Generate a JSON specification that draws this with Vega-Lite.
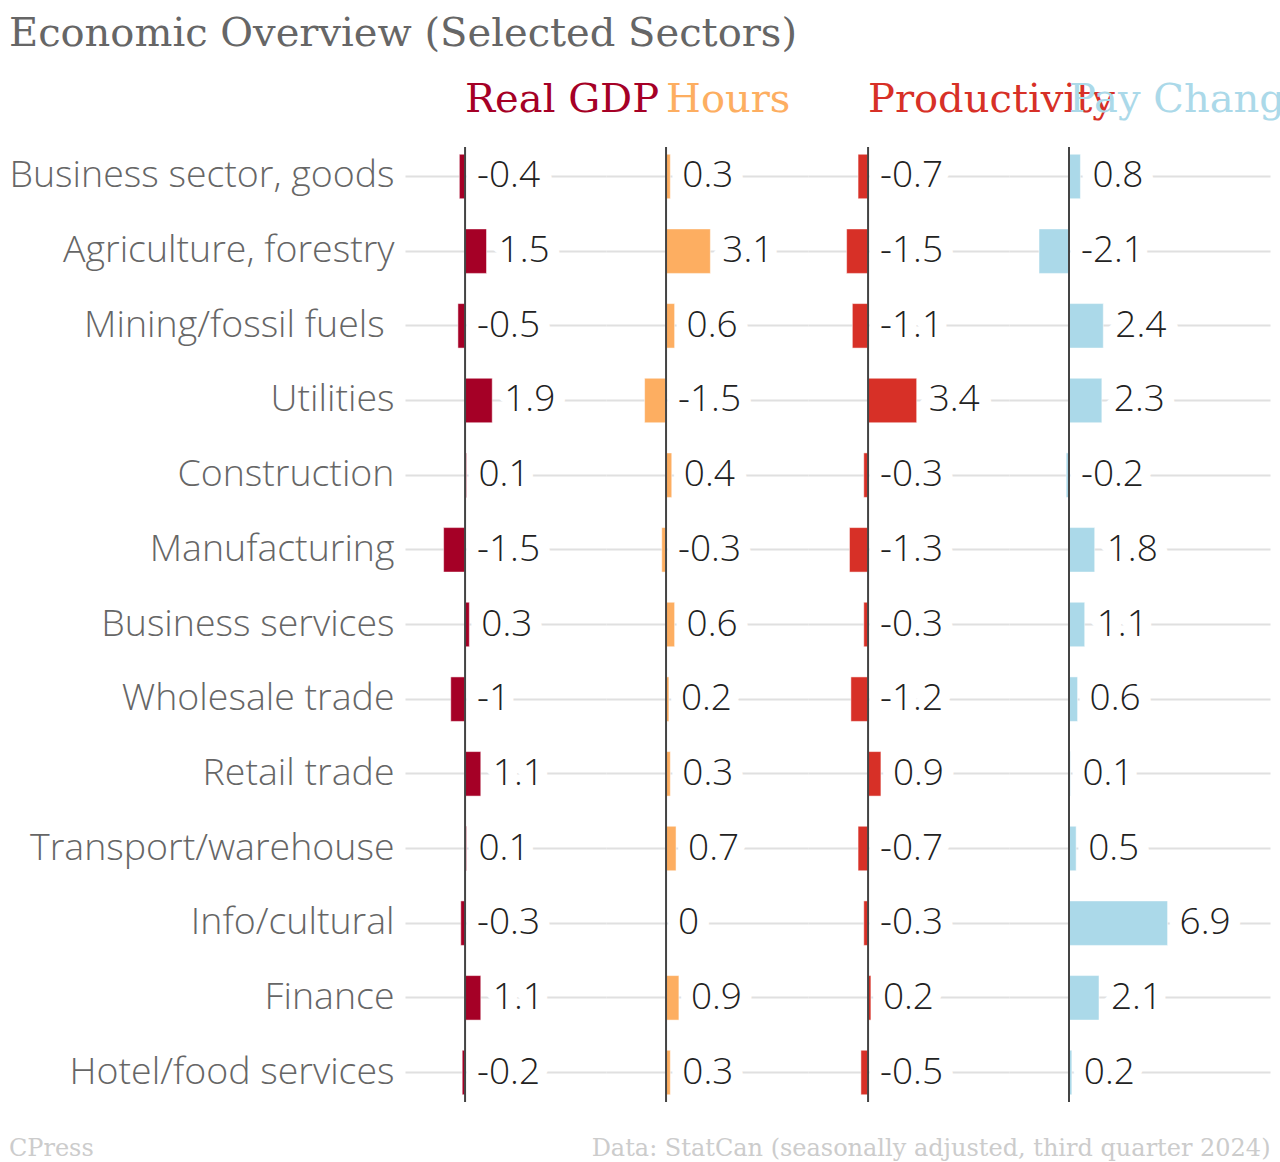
{
  "$schema": "https://vega.github.io/schema/vega-lite/v6.json",
  "background": "white",
  "padding": {"left": 8, "right": 10, "top": 14, "bottom": 0},
  "title": {"text": "Economic Overview (Selected Sectors)", "anchor": "start", "frame": "bounds", "font": "DejaVu Serif", "fontSize": 40, "fontWeight": "normal", "color": "#666666", "baseline": "alphabetic", "offset": -6},
  "datasets": {
    "econ": [
      {"sector": "Business sector, goods", "metric": "Real GDP", "value": -0.4},
      {"sector": "Agriculture, forestry", "metric": "Real GDP", "value": 1.5},
      {"sector": "Mining/fossil fuels\u00a0\u200b", "metric": "Real GDP", "value": -0.5},
      {"sector": "Utilities", "metric": "Real GDP", "value": 1.9},
      {"sector": "Construction", "metric": "Real GDP", "value": 0.1},
      {"sector": "Manufacturing", "metric": "Real GDP", "value": -1.5},
      {"sector": "Business services", "metric": "Real GDP", "value": 0.3},
      {"sector": "Wholesale trade", "metric": "Real GDP", "value": -1},
      {"sector": "Retail trade", "metric": "Real GDP", "value": 1.1},
      {"sector": "Transport/warehouse", "metric": "Real GDP", "value": 0.1},
      {"sector": "Info/cultural", "metric": "Real GDP", "value": -0.3},
      {"sector": "Finance", "metric": "Real GDP", "value": 1.1},
      {"sector": "Hotel/food services", "metric": "Real GDP", "value": -0.2},
      {"sector": "Business sector, goods", "metric": "Hours", "value": 0.3},
      {"sector": "Agriculture, forestry", "metric": "Hours", "value": 3.1},
      {"sector": "Mining/fossil fuels\u00a0\u200b", "metric": "Hours", "value": 0.6},
      {"sector": "Utilities", "metric": "Hours", "value": -1.5},
      {"sector": "Construction", "metric": "Hours", "value": 0.4},
      {"sector": "Manufacturing", "metric": "Hours", "value": -0.3},
      {"sector": "Business services", "metric": "Hours", "value": 0.6},
      {"sector": "Wholesale trade", "metric": "Hours", "value": 0.2},
      {"sector": "Retail trade", "metric": "Hours", "value": 0.3},
      {"sector": "Transport/warehouse", "metric": "Hours", "value": 0.7},
      {"sector": "Info/cultural", "metric": "Hours", "value": 0},
      {"sector": "Finance", "metric": "Hours", "value": 0.9},
      {"sector": "Hotel/food services", "metric": "Hours", "value": 0.3},
      {"sector": "Business sector, goods", "metric": "Productivity", "value": -0.7},
      {"sector": "Agriculture, forestry", "metric": "Productivity", "value": -1.5},
      {"sector": "Mining/fossil fuels\u00a0\u200b", "metric": "Productivity", "value": -1.1},
      {"sector": "Utilities", "metric": "Productivity", "value": 3.4},
      {"sector": "Construction", "metric": "Productivity", "value": -0.3},
      {"sector": "Manufacturing", "metric": "Productivity", "value": -1.3},
      {"sector": "Business services", "metric": "Productivity", "value": -0.3},
      {"sector": "Wholesale trade", "metric": "Productivity", "value": -1.2},
      {"sector": "Retail trade", "metric": "Productivity", "value": 0.9},
      {"sector": "Transport/warehouse", "metric": "Productivity", "value": -0.7},
      {"sector": "Info/cultural", "metric": "Productivity", "value": -0.3},
      {"sector": "Finance", "metric": "Productivity", "value": 0.2},
      {"sector": "Hotel/food services", "metric": "Productivity", "value": -0.5},
      {"sector": "Business sector, goods", "metric": "Pay Change", "value": 0.8},
      {"sector": "Agriculture, forestry", "metric": "Pay Change", "value": -2.1},
      {"sector": "Mining/fossil fuels\u00a0\u200b", "metric": "Pay Change", "value": 2.4},
      {"sector": "Utilities", "metric": "Pay Change", "value": 2.3},
      {"sector": "Construction", "metric": "Pay Change", "value": -0.2},
      {"sector": "Manufacturing", "metric": "Pay Change", "value": 1.8},
      {"sector": "Business services", "metric": "Pay Change", "value": 1.1},
      {"sector": "Wholesale trade", "metric": "Pay Change", "value": 0.6},
      {"sector": "Retail trade", "metric": "Pay Change", "value": 0.1},
      {"sector": "Transport/warehouse", "metric": "Pay Change", "value": 0.5},
      {"sector": "Info/cultural", "metric": "Pay Change", "value": 6.9},
      {"sector": "Finance", "metric": "Pay Change", "value": 2.1},
      {"sector": "Hotel/food services", "metric": "Pay Change", "value": 0.2}
    ]
  },
  "data": {"name": "econ"},
  "vconcat": [
    {
      "title": {"text": "CPress", "orient": "bottom", "anchor": "start", "frame": "bounds", "font": "DejaVu Serif", "fontSize": 24, "fontWeight": "normal", "color": "#cccccc", "baseline": "alphabetic", "offset": 0, "dy": -4},
      "spacing": 0,
      "bounds": "flush",
      "hconcat": [
        {
          "width": 201, "height": 955,
          "title": {"text": "Real GDP", "color": "#a50026", "anchor": "start", "frame": "group", "dx": 60, "offset": -6, "baseline": "alphabetic", "font": "DejaVu Serif", "fontSize": 40, "fontWeight": "normal"},
          "layer": [
            {
              "transform": [{"filter": "datum.metric === 'Real GDP'"}],
              "encoding": {"y": {"field": "sector", "type": "nominal", "sort": ["Business sector, goods", "Agriculture, forestry", "Mining/fossil fuels\u00a0\u200b", "Utilities", "Construction", "Manufacturing", "Business services", "Wholesale trade", "Retail trade", "Transport/warehouse", "Info/cultural", "Finance", "Hotel/food services"], "scale": {"paddingInner": 0.404, "paddingOuter": 0.097}, "axis": {"title": null, "domain": false, "ticks": false, "labelFont": "Open Sans", "labelFontWeight": 300, "labelFontSize": 37.5, "labelColor": "#666666", "labelPadding": 11, "labelLimit": 600, "grid": true, "gridColor": "#e0e0e0", "gridWidth": 2, "bandPosition": 0.5}}},
              "layer": [
                {"transform": [{"filter": "datum.value >= 0"}], "mark": {"type": "text", "align": "left", "baseline": "middle", "dx": 12, "font": "Open Sans", "fontWeight": 300, "fontSize": 37, "fill": "#ffffff", "stroke": "#ffffff", "strokeWidth": 24, "strokeJoin": "round"}, "encoding": {"x": {"field": "value", "type": "quantitative", "scale": {"domain": [-4.2, 9.856], "nice": false, "zero": false}, "axis": null}, "text": {"field": "value", "type": "nominal"}}},
                {"transform": [{"filter": "datum.value < 0"}], "mark": {"type": "text", "align": "left", "baseline": "middle", "dx": 12, "font": "Open Sans", "fontWeight": 300, "fontSize": 37, "fill": "#ffffff", "stroke": "#ffffff", "strokeWidth": 24, "strokeJoin": "round"}, "encoding": {"x": {"datum": 0, "type": "quantitative", "scale": {"domain": [-4.2, 9.856], "nice": false, "zero": false}, "axis": null}, "text": {"field": "value", "type": "nominal"}}},
                {"mark": {"type": "bar", "fill": "#a50026", "stroke": "#ffffff", "strokeWidth": 1, "strokeOpacity": 0.5}, "encoding": {"x": {"field": "value", "type": "quantitative", "scale": {"domain": [-4.2, 9.856], "nice": false, "zero": false}, "axis": null}, "x2": {"datum": 0}}},
                {"transform": [{"filter": "datum.value >= 0"}], "mark": {"type": "text", "align": "left", "baseline": "middle", "dx": 12, "font": "Open Sans", "fontWeight": 300, "fontSize": 37, "fill": "#222222"}, "encoding": {"x": {"field": "value", "type": "quantitative", "scale": {"domain": [-4.2, 9.856], "nice": false, "zero": false}, "axis": null}, "text": {"field": "value", "type": "nominal"}}},
                {"transform": [{"filter": "datum.value < 0"}], "mark": {"type": "text", "align": "left", "baseline": "middle", "dx": 12, "font": "Open Sans", "fontWeight": 300, "fontSize": 37, "fill": "#222222"}, "encoding": {"x": {"datum": 0, "type": "quantitative", "scale": {"domain": [-4.2, 9.856], "nice": false, "zero": false}, "axis": null}, "text": {"field": "value", "type": "nominal"}}}
              ]
            },
            {"data": {"values": [{"baseline": 0}]}, "mark": {"type": "rule", "color": "#444444", "strokeWidth": 2}, "encoding": {"x": {"field": "baseline", "type": "quantitative", "scale": {"domain": [-4.2, 9.856], "nice": false, "zero": false}, "axis": null}}}
          ]
        },
        {
          "width": 202, "height": 955,
          "title": {"text": "Hours", "color": "#fdae61", "anchor": "start", "frame": "group", "dx": 60, "offset": -6, "baseline": "alphabetic", "font": "DejaVu Serif", "fontSize": 40, "fontWeight": "normal"},
          "layer": [
            {
              "transform": [{"filter": "datum.metric === 'Hours'"}],
              "encoding": {"y": {"field": "sector", "type": "nominal", "sort": ["Business sector, goods", "Agriculture, forestry", "Mining/fossil fuels\u00a0\u200b", "Utilities", "Construction", "Manufacturing", "Business services", "Wholesale trade", "Retail trade", "Transport/warehouse", "Info/cultural", "Finance", "Hotel/food services"], "scale": {"paddingInner": 0.404, "paddingOuter": 0.097}, "axis": {"title": null, "domain": false, "ticks": false, "labels": false, "grid": true, "gridColor": "#e0e0e0", "gridWidth": 2, "bandPosition": 0.5}}},
              "layer": [
                {"transform": [{"filter": "datum.value >= 0"}], "mark": {"type": "text", "align": "left", "baseline": "middle", "dx": 12, "font": "Open Sans", "fontWeight": 300, "fontSize": 37, "fill": "#ffffff", "stroke": "#ffffff", "strokeWidth": 24, "strokeJoin": "round"}, "encoding": {"x": {"field": "value", "type": "quantitative", "scale": {"domain": [-4.2, 9.93], "nice": false, "zero": false}, "axis": null}, "text": {"field": "value", "type": "nominal"}}},
                {"transform": [{"filter": "datum.value < 0"}], "mark": {"type": "text", "align": "left", "baseline": "middle", "dx": 12, "font": "Open Sans", "fontWeight": 300, "fontSize": 37, "fill": "#ffffff", "stroke": "#ffffff", "strokeWidth": 24, "strokeJoin": "round"}, "encoding": {"x": {"datum": 0, "type": "quantitative", "scale": {"domain": [-4.2, 9.93], "nice": false, "zero": false}, "axis": null}, "text": {"field": "value", "type": "nominal"}}},
                {"mark": {"type": "bar", "fill": "#fdae61", "stroke": "#ffffff", "strokeWidth": 1, "strokeOpacity": 0.5}, "encoding": {"x": {"field": "value", "type": "quantitative", "scale": {"domain": [-4.2, 9.93], "nice": false, "zero": false}, "axis": null}, "x2": {"datum": 0}}},
                {"transform": [{"filter": "datum.value >= 0"}], "mark": {"type": "text", "align": "left", "baseline": "middle", "dx": 12, "font": "Open Sans", "fontWeight": 300, "fontSize": 37, "fill": "#222222"}, "encoding": {"x": {"field": "value", "type": "quantitative", "scale": {"domain": [-4.2, 9.93], "nice": false, "zero": false}, "axis": null}, "text": {"field": "value", "type": "nominal"}}},
                {"transform": [{"filter": "datum.value < 0"}], "mark": {"type": "text", "align": "left", "baseline": "middle", "dx": 12, "font": "Open Sans", "fontWeight": 300, "fontSize": 37, "fill": "#222222"}, "encoding": {"x": {"datum": 0, "type": "quantitative", "scale": {"domain": [-4.2, 9.93], "nice": false, "zero": false}, "axis": null}, "text": {"field": "value", "type": "nominal"}}}
              ]
            },
            {"data": {"values": [{"baseline": 0}]}, "mark": {"type": "rule", "color": "#444444", "strokeWidth": 2}, "encoding": {"x": {"field": "baseline", "type": "quantitative", "scale": {"domain": [-4.2, 9.93], "nice": false, "zero": false}, "axis": null}}}
          ]
        },
        {
          "width": 201, "height": 955,
          "title": {"text": "Productivity", "color": "#d73027", "anchor": "start", "frame": "group", "dx": 60, "offset": -6, "baseline": "alphabetic", "font": "DejaVu Serif", "fontSize": 40, "fontWeight": "normal"},
          "layer": [
            {
              "transform": [{"filter": "datum.metric === 'Productivity'"}],
              "encoding": {"y": {"field": "sector", "type": "nominal", "sort": ["Business sector, goods", "Agriculture, forestry", "Mining/fossil fuels\u00a0\u200b", "Utilities", "Construction", "Manufacturing", "Business services", "Wholesale trade", "Retail trade", "Transport/warehouse", "Info/cultural", "Finance", "Hotel/food services"], "scale": {"paddingInner": 0.404, "paddingOuter": 0.097}, "axis": {"title": null, "domain": false, "ticks": false, "labels": false, "grid": true, "gridColor": "#e0e0e0", "gridWidth": 2, "bandPosition": 0.5}}},
              "layer": [
                {"transform": [{"filter": "datum.value >= 0"}], "mark": {"type": "text", "align": "left", "baseline": "middle", "dx": 12, "font": "Open Sans", "fontWeight": 300, "fontSize": 37, "fill": "#ffffff", "stroke": "#ffffff", "strokeWidth": 24, "strokeJoin": "round"}, "encoding": {"x": {"field": "value", "type": "quantitative", "scale": {"domain": [-4.2, 9.856], "nice": false, "zero": false}, "axis": null}, "text": {"field": "value", "type": "nominal"}}},
                {"transform": [{"filter": "datum.value < 0"}], "mark": {"type": "text", "align": "left", "baseline": "middle", "dx": 12, "font": "Open Sans", "fontWeight": 300, "fontSize": 37, "fill": "#ffffff", "stroke": "#ffffff", "strokeWidth": 24, "strokeJoin": "round"}, "encoding": {"x": {"datum": 0, "type": "quantitative", "scale": {"domain": [-4.2, 9.856], "nice": false, "zero": false}, "axis": null}, "text": {"field": "value", "type": "nominal"}}},
                {"mark": {"type": "bar", "fill": "#d73027", "stroke": "#ffffff", "strokeWidth": 1, "strokeOpacity": 0.5}, "encoding": {"x": {"field": "value", "type": "quantitative", "scale": {"domain": [-4.2, 9.856], "nice": false, "zero": false}, "axis": null}, "x2": {"datum": 0}}},
                {"transform": [{"filter": "datum.value >= 0"}], "mark": {"type": "text", "align": "left", "baseline": "middle", "dx": 12, "font": "Open Sans", "fontWeight": 300, "fontSize": 37, "fill": "#222222"}, "encoding": {"x": {"field": "value", "type": "quantitative", "scale": {"domain": [-4.2, 9.856], "nice": false, "zero": false}, "axis": null}, "text": {"field": "value", "type": "nominal"}}},
                {"transform": [{"filter": "datum.value < 0"}], "mark": {"type": "text", "align": "left", "baseline": "middle", "dx": 12, "font": "Open Sans", "fontWeight": 300, "fontSize": 37, "fill": "#222222"}, "encoding": {"x": {"datum": 0, "type": "quantitative", "scale": {"domain": [-4.2, 9.856], "nice": false, "zero": false}, "axis": null}, "text": {"field": "value", "type": "nominal"}}}
              ]
            },
            {"data": {"values": [{"baseline": 0}]}, "mark": {"type": "rule", "color": "#444444", "strokeWidth": 2}, "encoding": {"x": {"field": "baseline", "type": "quantitative", "scale": {"domain": [-4.2, 9.856], "nice": false, "zero": false}, "axis": null}}}
          ]
        },
        {
          "width": 261, "height": 955,
          "title": {"text": "Pay Change", "color": "#abd9e9", "anchor": "start", "frame": "group", "dx": 60, "offset": -6, "baseline": "alphabetic", "font": "DejaVu Serif", "fontSize": 40, "fontWeight": "normal"},
          "layer": [
            {
              "transform": [{"filter": "datum.metric === 'Pay Change'"}],
              "encoding": {"y": {"field": "sector", "type": "nominal", "sort": ["Business sector, goods", "Agriculture, forestry", "Mining/fossil fuels\u00a0\u200b", "Utilities", "Construction", "Manufacturing", "Business services", "Wholesale trade", "Retail trade", "Transport/warehouse", "Info/cultural", "Finance", "Hotel/food services"], "scale": {"paddingInner": 0.404, "paddingOuter": 0.097}, "axis": {"title": null, "domain": false, "ticks": false, "labels": false, "grid": true, "gridColor": "#e0e0e0", "gridWidth": 2, "bandPosition": 0.5}}},
              "layer": [
                {"transform": [{"filter": "datum.value >= 0"}], "mark": {"type": "text", "align": "left", "baseline": "middle", "dx": 12, "font": "Open Sans", "fontWeight": 300, "fontSize": 37, "fill": "#ffffff", "stroke": "#ffffff", "strokeWidth": 24, "strokeJoin": "round"}, "encoding": {"x": {"field": "value", "type": "quantitative", "scale": {"domain": [-4.2, 14.07], "nice": false, "zero": false}, "axis": {"title": "Data: StatCan (seasonally adjusted, third quarter 2024)", "labels": false, "ticks": false, "domain": false, "grid": false, "titleAnchor": "end", "titleFont": "DejaVu Serif", "titleFontSize": 24, "titleFontWeight": "normal", "titleColor": "#cccccc", "titleBaseline": "alphabetic", "titlePadding": 53}}, "text": {"field": "value", "type": "nominal"}}},
                {"transform": [{"filter": "datum.value < 0"}], "mark": {"type": "text", "align": "left", "baseline": "middle", "dx": 12, "font": "Open Sans", "fontWeight": 300, "fontSize": 37, "fill": "#ffffff", "stroke": "#ffffff", "strokeWidth": 24, "strokeJoin": "round"}, "encoding": {"x": {"datum": 0, "type": "quantitative", "scale": {"domain": [-4.2, 14.07], "nice": false, "zero": false}}, "text": {"field": "value", "type": "nominal"}}},
                {"mark": {"type": "bar", "fill": "#abd9e9", "stroke": "#ffffff", "strokeWidth": 1, "strokeOpacity": 0.5}, "encoding": {"x": {"field": "value", "type": "quantitative", "scale": {"domain": [-4.2, 14.07], "nice": false, "zero": false}}, "x2": {"datum": 0}}},
                {"transform": [{"filter": "datum.value >= 0"}], "mark": {"type": "text", "align": "left", "baseline": "middle", "dx": 12, "font": "Open Sans", "fontWeight": 300, "fontSize": 37, "fill": "#222222"}, "encoding": {"x": {"field": "value", "type": "quantitative", "scale": {"domain": [-4.2, 14.07], "nice": false, "zero": false}}, "text": {"field": "value", "type": "nominal"}}},
                {"transform": [{"filter": "datum.value < 0"}], "mark": {"type": "text", "align": "left", "baseline": "middle", "dx": 12, "font": "Open Sans", "fontWeight": 300, "fontSize": 37, "fill": "#222222"}, "encoding": {"x": {"datum": 0, "type": "quantitative", "scale": {"domain": [-4.2, 14.07], "nice": false, "zero": false}}, "text": {"field": "value", "type": "nominal"}}}
              ]
            },
            {"data": {"values": [{"baseline": 0}]}, "mark": {"type": "rule", "color": "#444444", "strokeWidth": 2}, "encoding": {"x": {"field": "baseline", "type": "quantitative", "scale": {"domain": [-4.2, 14.07], "nice": false, "zero": false}}}}
          ]
        }
      ]
    }
  ],
  "config": {"view": {"stroke": null}}
}
